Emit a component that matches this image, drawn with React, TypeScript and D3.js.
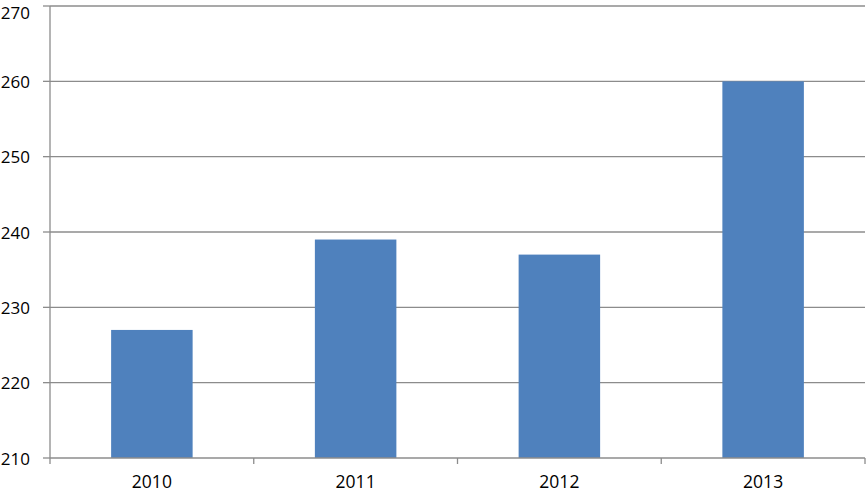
import React from "react";
import * as d3 from "d3";

const years = ["2010", "2011", "2012", "2013"];
const values = [227, 239, 237, 260];
const yTicks = [210, 220, 230, 240, 250, 260, 270];

const W = 866;
const H = 492;
const margin = { left: 50, right: 1, top: 6, bottom: 34 };

export default function App() {
  const x = d3
    .scaleBand<string>()
    .domain(years)
    .range([margin.left, W - margin.right])
    .paddingInner(0.6)
    .paddingOuter(0.3);
  const xOuter = d3.scaleBand<string>().domain(years).range([margin.left, W - margin.right]);
  const y = d3.scaleLinear().domain([210, 270]).range([H - margin.bottom, margin.top]);
  const grid = "#8c8c8c";
  const font = "'Open Sans', 'Liberation Sans', sans-serif";
  const bottom = y(210);
  return (
    <svg
      width={W}
      height={H}
      style={{ position: "absolute", left: 0, top: 0, background: "#fff" }}
    >
      {yTicks.map((t) => (
        <g key={t}>
          {t !== 210 && (
            <line x1={margin.left} x2={W - margin.right} y1={y(t)} y2={y(t)} stroke={grid} strokeWidth={1.3} />
          )}
          <line x1={margin.left - 7} x2={margin.left} y1={y(t)} y2={y(t)} stroke={grid} strokeWidth={1.3} />
          <text
            x={30}
            y={Math.max(y(t) + 6.6, 18.6)}
            textAnchor="end"
            fontFamily={font}
            fontSize={17}
            fill="#000"
          >
            {t}
          </text>
        </g>
      ))}
      {years.map((yr, i) => (
        <rect
          key={yr}
          x={x(yr)}
          width={x.bandwidth()}
          y={y(values[i])}
          height={bottom - y(values[i])}
          fill="#4F81BD"
        />
      ))}
      <line x1={margin.left} x2={margin.left} y1={margin.top} y2={bottom} stroke={grid} strokeWidth={1.3} />
      <line x1={margin.left} x2={W - margin.right} y1={bottom} y2={bottom} stroke={grid} strokeWidth={1.3} />
      {years.map((yr) => (
        <line
          key={"t" + yr}
          x1={(xOuter(yr) as number) + xOuter.bandwidth()}
          x2={(xOuter(yr) as number) + xOuter.bandwidth()}
          y1={bottom}
          y2={bottom + 6}
          stroke={grid}
          strokeWidth={1.3}
        />
      ))}
      <line x1={margin.left} x2={margin.left} y1={bottom} y2={bottom + 6} stroke={grid} strokeWidth={1.3} />
      {years.map((yr) => (
        <text
          key={"l" + yr}
          x={(xOuter(yr) as number) + xOuter.bandwidth() / 2}
          y={bottom + 29.5}
          textAnchor="middle"
          fontFamily={font}
          fontSize={17.5}
          fill="#000"
        >
          {yr}
        </text>
      ))}
    </svg>
  );
}
